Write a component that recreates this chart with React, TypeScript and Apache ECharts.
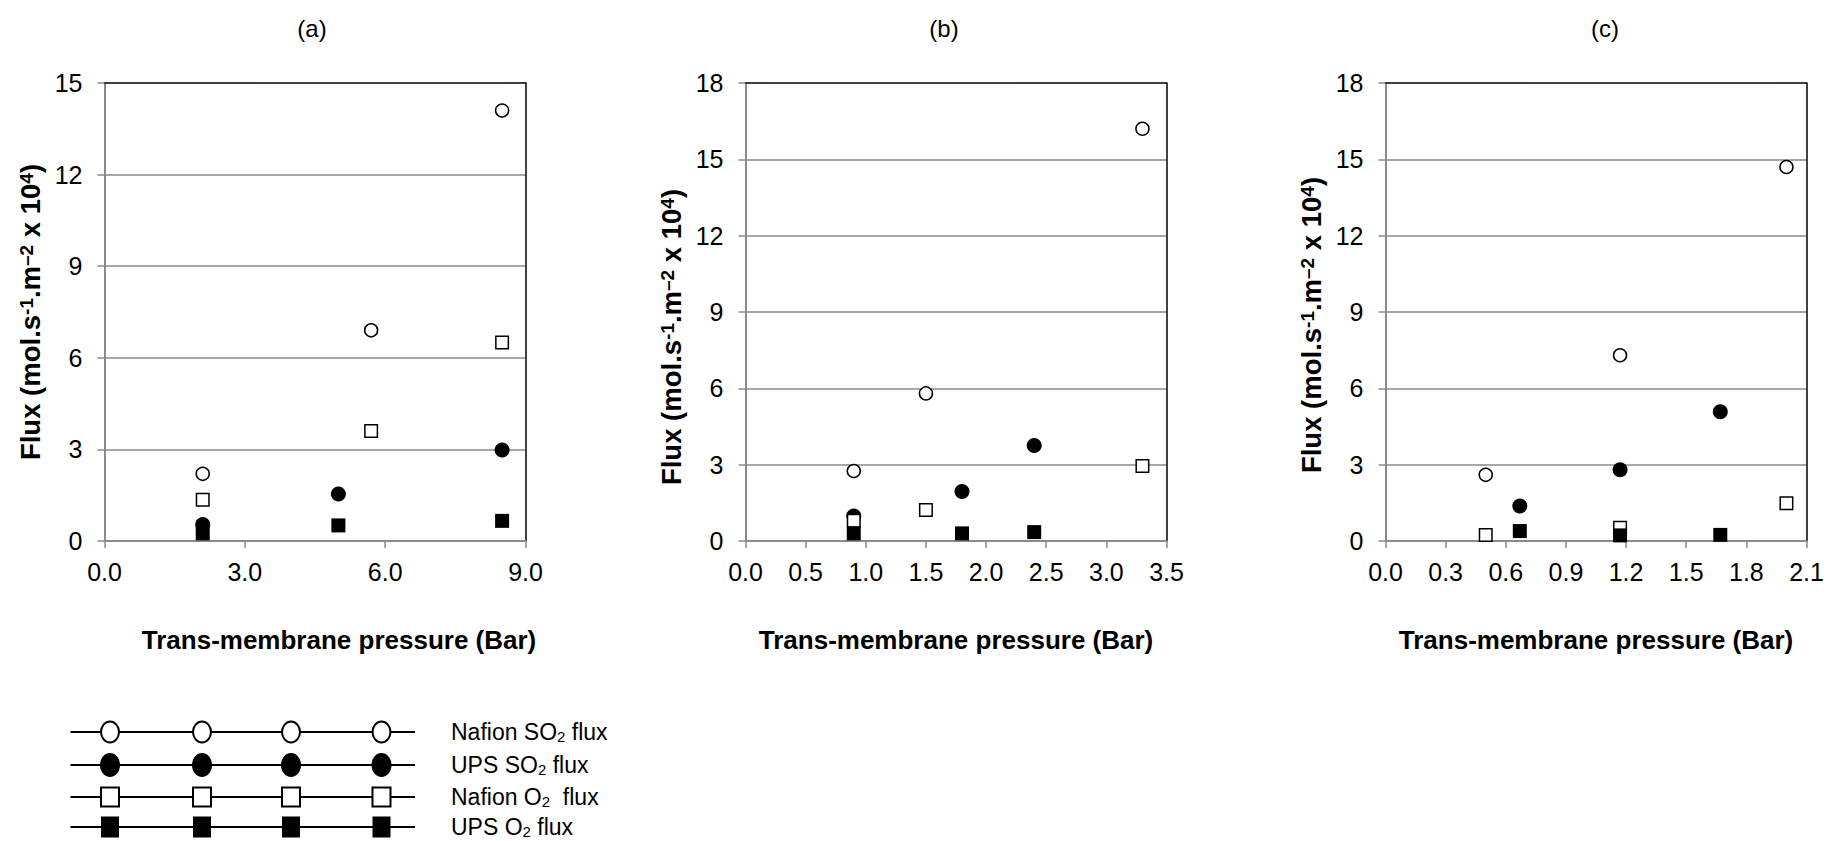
import React, { useEffect, useRef } from "react";
import * as echarts from "echarts";

const FONT = "'Liberation Sans', Arial, Helvetica, sans-serif";

// Panel (a)
const aNafionP = [2.1, 5.7, 8.5];
const aNafionSO2 = [2.2, 6.9, 14.1];
const aNafionO2 = [1.35, 3.6, 6.5];
const aUpsP = [2.1, 5.0, 8.5];
const aUpsSO2 = [0.54, 1.54, 2.98];
const aUpsO2 = [0.25, 0.51, 0.66];

// Panel (b)
const bNafionP = [0.9, 1.5, 3.3];
const bNafionSO2 = [2.75, 5.8, 16.2];
const bNafionO2 = [0.8, 1.22, 2.95];
const bUpsP = [0.9, 1.8, 2.4];
const bUpsSO2 = [0.98, 1.95, 3.75];
const bUpsO2 = [0.3, 0.3, 0.35];

// Panel (c)
const cNafionP = [0.5, 1.17, 2.0];
const cNafionSO2 = [2.6, 7.3, 14.7];
const cNafionO2 = [0.24, 0.52, 1.48];
const cUpsP = [0.67, 1.17, 1.67];
const cUpsSO2 = [1.38, 2.8, 5.08];
const cUpsO2 = [0.39, 0.22, 0.24];

const panelLabels = ["(a)", "(b)", "(c)"];
const xMaxes = [9, 3.5, 2.1];
const xSteps = [3, 0.5, 0.3];
const yMaxes = [15, 18, 18];
const ySteps = [3, 3, 3];

const seriesNames = ["Nafion SO2 flux", "UPS SO2 flux", "Nafion O2 flux", "UPS O2 flux"];
const legendLabels = [
  "Nafion SO{sub|2} flux",
  "UPS SO{sub|2} flux",
  "Nafion O{sub|2}  flux",
  "UPS O{sub|2} flux",
];
const xAxisTitle = "Trans-membrane pressure (Bar)";
const yAxisTitle = "Flux (mol.s{sup|-1}.m{sup|–2} x 10{sup|4})";

const panels = [
  { nP: aNafionP, nSO2: aNafionSO2, nO2: aNafionO2, uP: aUpsP, uSO2: aUpsSO2, uO2: aUpsO2 },
  { nP: bNafionP, nSO2: bNafionSO2, nO2: bNafionO2, uP: bUpsP, uSO2: bUpsSO2, uO2: bUpsO2 },
  { nP: cNafionP, nSO2: cNafionSO2, nO2: cNafionO2, uP: cUpsP, uSO2: cUpsSO2, uO2: cUpsO2 },
];

// layout
const GRID_LEFT = [104.5, 745.5, 1385.5];
const GRID_W = 421;
const GRID_TOP = 83;
const GRID_H = 458;
const TITLE_X = [312, 944, 1605];
const TITLE_Y = 28;
const XNAME_PAD = [[0, 0, 0, 48], [0, 0, 0, 0], [0, 0, 0, 0]];
const YNAME_PAD = [[0, 0, 0, 0], [0, 50, 0, 0], [0, 26, 0, 0]];

const GRAY = "#8a8a8a";

const markerStyles = [
  { symbol: "circle", symbolSize: 13, itemStyle: { color: "#fff", borderColor: "#000", borderWidth: 1.5, opacity: 1 } },
  { symbol: "circle", symbolSize: 15, itemStyle: { color: "#000", borderWidth: 0, opacity: 1 } },
  { symbol: "rect", symbolSize: 12.5, itemStyle: { color: "#fff", borderColor: "#000", borderWidth: 1.5, opacity: 1 } },
  { symbol: "rect", symbolSize: 14, itemStyle: { color: "#000", borderWidth: 0, opacity: 1 } },
];

const zip = (xs: number[], ys: number[]) => xs.map((x, i) => [x, ys[i]]);

function buildOption() {
  const grid: any[] = [];
  const xAxis: any[] = [];
  const yAxis: any[] = [];
  const series: any[] = [];

  panels.forEach((p, i) => {
    grid.push({ left: GRID_LEFT[i], top: GRID_TOP, width: GRID_W, height: GRID_H, containLabel: false });
  });

  panels.forEach((p, i) => {
    xAxis.push({
      type: "value",
      gridIndex: i,
      position: "bottom",
      min: 0,
      max: xMaxes[i],
      interval: xSteps[i],
      axisLine: { show: true, onZero: false, lineStyle: { color: GRAY, width: 2 } },
      axisTick: { show: true, inside: false, length: 7, lineStyle: { color: GRAY, width: 1.5 } },
      axisLabel: {
        color: "#000",
        fontSize: 25,
        fontFamily: FONT,
        margin: 18,
        formatter: (v: number) => v.toFixed(1),
      },
      splitLine: { show: false },
      name: xAxisTitle,
      nameLocation: "middle",
      nameGap: 86,
      nameTextStyle: {
        color: "#000",
        fontSize: 26,
        fontWeight: "bold",
        fontFamily: FONT,
        padding: XNAME_PAD[i],
      },
    });
  });
  panels.forEach((p, i) => {
    xAxis.push({
      type: "value",
      gridIndex: i,
      position: "top",
      min: 0,
      max: xMaxes[i],
      interval: xSteps[i],
      axisLine: { show: true, onZero: false, lineStyle: { color: "#000", width: 1.5 } },
      axisTick: { show: false },
      axisLabel: { show: false },
      splitLine: { show: false },
    });
  });

  panels.forEach((p, i) => {
    yAxis.push({
      type: "value",
      gridIndex: i,
      position: "left",
      min: 0,
      max: yMaxes[i],
      interval: ySteps[i],
      axisLine: { show: true, onZero: false, lineStyle: { color: GRAY, width: 2 } },
      axisTick: { show: true, inside: false, length: 7, lineStyle: { color: GRAY, width: 1.5 } },
      axisLabel: { color: "#000", fontSize: 25, fontFamily: FONT, margin: 22 },
      splitLine: { show: true, showMinLine: false, showMaxLine: false, lineStyle: { color: GRAY, width: 1.5 } },
      name: yAxisTitle,
      nameLocation: "middle",
      nameGap: 60,
      nameTextStyle: {
        color: "#000",
        fontSize: 27.5,
        fontWeight: "bold",
        fontFamily: FONT,
        padding: YNAME_PAD[i],
        rich: {
          sup: { fontSize: 19, fontWeight: "bold", fontFamily: FONT, color: "#000", verticalAlign: "top" },
        },
      },
    });
  });
  panels.forEach((p, i) => {
    yAxis.push({
      type: "value",
      gridIndex: i,
      position: "right",
      min: 0,
      max: yMaxes[i],
      interval: ySteps[i],
      axisLine: { show: true, onZero: false, lineStyle: { color: "#000", width: 1.5 } },
      axisTick: { show: false },
      axisLabel: { show: false },
      splitLine: { show: false },
    });
  });

  panels.forEach((p, i) => {
    const sets = [
      zip(p.nP, p.nSO2),
      zip(p.uP, p.uSO2),
      zip(p.nP, p.nO2),
      zip(p.uP, p.uO2),
    ];
    sets.forEach((data, k) => {
      series.push({
        type: "scatter",
        name: seriesNames[k],
        xAxisIndex: i,
        yAxisIndex: i,
        data,
        z: 3 + k,
        ...markerStyles[k],
        emphasis: { disabled: true },
      });
    });
  });

  // panel titles
  const graphic: any[] = panelLabels.map((t, i) => ({
    type: "text",
    x: TITLE_X[i],
    y: TITLE_Y,
    style: {
      text: t,
      fontSize: 24,
      fontFamily: FONT,
      fill: "#000",
      align: "center",
      verticalAlign: "middle",
      textAlign: "center",
      textVerticalAlign: "middle",
    },
  }));

  // key drawn as four marker strips
  const LEG_ROW_Y = [732, 765, 797, 827];
  const LEG_MARK_X = [110, 202, 291, 381.5];
  const LEG_LINE_X = [70.5, 415];
  const LEG_TEXT_X = 451;
  seriesNames.forEach((name, k) => {
    const y = LEG_ROW_Y[k];
    graphic.push({
      type: "line",
      shape: { x1: LEG_LINE_X[0], y1: y, x2: LEG_LINE_X[1], y2: y },
      style: { stroke: "#000", lineWidth: 2 },
      z: 10,
    });
    LEG_MARK_X.forEach((cx) => {
      if (k === 0) {
        graphic.push({ type: "ellipse", shape: { cx, cy: y, rx: 9, ry: 10.5 }, style: { fill: "#fff", stroke: "#000", lineWidth: 2 }, z: 11 });
      } else if (k === 1) {
        graphic.push({ type: "ellipse", shape: { cx, cy: y, rx: 10, ry: 12 }, style: { fill: "#000" }, z: 11 });
      } else if (k === 2) {
        graphic.push({ type: "rect", shape: { x: cx - 9, y: y - 9.5, width: 18, height: 19 }, style: { fill: "#fff", stroke: "#000", lineWidth: 2 }, z: 11 });
      } else {
        graphic.push({ type: "rect", shape: { x: cx - 9, y: y - 10.5, width: 18, height: 21 }, style: { fill: "#000" }, z: 11 });
      }
    });
    graphic.push({
      type: "text",
      x: LEG_TEXT_X,
      y,
      z: 11,
      style: {
        text: legendLabels[k],
        fontSize: 23,
        fontFamily: FONT,
        fill: "#000",
        align: "left",
        verticalAlign: "middle",
        textAlign: "left",
        textVerticalAlign: "middle",
        rich: {
          sub: { fontSize: 15, fontFamily: FONT, fill: "#000", verticalAlign: "bottom" },
        },
      },
    });
  });

  return {
    animation: false,
    backgroundColor: "#fff",
    grid,
    xAxis,
    yAxis,
    series,
    graphic,
  };
}

export default function App() {
  const ref = useRef<HTMLDivElement>(null);
  useEffect(() => {
    document.body.style.margin = "0";
    if (!ref.current) return;
    const chart = echarts.init(ref.current, undefined, { renderer: "svg" });
    chart.setOption(buildOption() as any);
    return () => chart.dispose();
  }, []);
  return <div ref={ref} style={{ width: 1827, height: 841 }} />;
}
